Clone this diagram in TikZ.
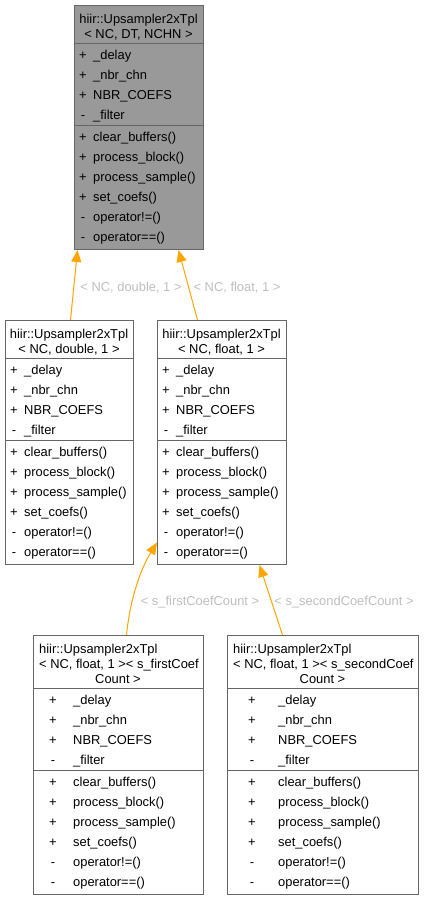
\documentclass[tikz,border=0pt]{standalone}
\usepackage{fontspec}
\setmainfont{Liberation Sans}
\usetikzlibrary{arrows.meta}
\definecolor{boxline}{HTML}{666666}
\definecolor{boxfill}{HTML}{999999}
\definecolor{edgecol}{HTML}{FFA500}
\definecolor{labcol}{HTML}{BEBEBE}
\tikzset{
  cls/.style={draw=boxline, line width=1pt, rectangle, inner sep=0pt, anchor=north west},
  divider/.style={draw=boxline, line width=1pt},
  txt/.style={inner sep=0pt, font=\fontsize{12.9}{15}\selectfont, text=black},
  sign/.style={txt, anchor=base},
  member/.style={txt, anchor=base west},
  ttl/.style={txt, anchor=base},
  ttlw/.style={txt, anchor=base west},
  edge/.style={draw=edgecol, line width=1pt, -{Triangle[length=12pt,width=10pt]}},
  elabel/.style={txt, anchor=base, text=labcol},
}
\newcommand{\classrows}[5]{%
  \foreach \s/\t [count=\i] in {+/\_delay,+/\_nbr\_chn,+/NBR\_COEFS,-/\_filter}{
    \node[sign] (#1-as\i) at (#2,{#4+20*(\i-1)}) {\s};
    \node[member] (#1-an\i) at (#3,{#4+20*(\i-1)}) {\t};
  }
  \foreach \s/\t [count=\i] in {+/clear\_buffers(),+/process\_block(),+/process\_sample(),+/set\_coefs(),-/operator!=(),-/operator==()}{
    \node[sign] (#1-ms\i) at ({#2-(#3-#2)*0},{#5+20*(\i-1)}) {\s};
    \node[member] (#1-mn\i) at (#3,{#5+20*(\i-1)}) {\t};
  }
}
\begin{document}
\begin{tikzpicture}[x=1pt,y=-1pt]
\useasboundingbox (0,0) rectangle (424,900);

% A: top box
\node[cls, fill=boxfill, minimum width=129pt, minimum height=244pt] (A) at (74,5) {};
\draw[divider] (74,43) -- (203,43);
\draw[divider] (74,125) -- (203,125);
\node[ttl] (A-t1) at (138.5,23) {hiir::Upsampler2xTpl};
\node[ttl] (A-t2) at (138.5,38) {< NC, DT, NCHN >};
\classrows{A}{83}{93}{59}{141}

% B: middle left
\node[cls, fill=white, minimum width=128pt, minimum height=244pt] (B) at (5,320) {};
\draw[divider] (5,358) -- (133,358);
\draw[divider] (5,440) -- (133,440);
\node[ttl] (B-t1) at (69,338) {hiir::Upsampler2xTpl};
\node[ttl] (B-t2) at (69,353) {< NC, double, 1 >};
\classrows{B}{14}{24}{374}{456}

% C: middle right
\node[cls, fill=white, minimum width=129pt, minimum height=244pt] (C) at (157,320) {};
\draw[divider] (157,358) -- (286,358);
\draw[divider] (157,440) -- (286,440);
\node[ttl] (C-t1) at (221.5,338) {hiir::Upsampler2xTpl};
\node[ttl] (C-t2) at (221.5,353) {< NC, float, 1 >};
\classrows{C}{166}{176}{374}{456}

% D: bottom left
\node[cls, fill=white, minimum width=170pt, minimum height=259pt] (D) at (33,635) {};
\draw[divider] (33,688) -- (203,688);
\draw[divider] (33,770) -- (203,770);
\node[ttlw] (D-t1) at (39,653) {hiir::Upsampler2xTpl};
\node[ttlw] (D-t2) at (39,668) {< NC, float, 1 >< s\_firstCoef};
\node[ttl] (D-t3) at (118,683) {Count >};
\classrows{D}{53}{73}{704}{786}

% E: bottom right
\node[cls, fill=white, minimum width=191pt, minimum height=259pt] (E) at (227,635) {};
\draw[divider] (227,688) -- (418,688);
\draw[divider] (227,770) -- (418,770);
\node[ttlw] (E-t1) at (233,653) {hiir::Upsampler2xTpl};
\node[ttlw] (E-t2) at (233,668) {< NC, float, 1 >< s\_secondCoef};
\node[ttl] (E-t3) at (322.5,683) {Count >};
\classrows{E}{252}{278}{704}{786}

% edges
\draw[edge] ([xshift=1pt]B.north) -- ([xshift=-61.5pt]A.south);
\draw[edge] ([xshift=-24.5pt]C.north) -- ([xshift=39.5pt]A.south);
\draw[edge] ([xshift=8pt]D.north) .. controls (130,600) and (140,570) .. ([yshift=-100pt]C.west);
\draw[edge] ([xshift=-40.5pt]E.north) -- ([xshift=37.5pt]C.south);

% edge labels
\node[elabel] (L1) at (131,291) {< NC, double, 1 >};
\node[elabel] (L2) at (237,291) {< NC, float, 1 >};
\node[elabel] (L3) at (200,605) {< s\_firstCoefCount >};
\node[elabel] (L4) at (344,605) {< s\_secondCoefCount >};
\end{tikzpicture}
\end{document}
